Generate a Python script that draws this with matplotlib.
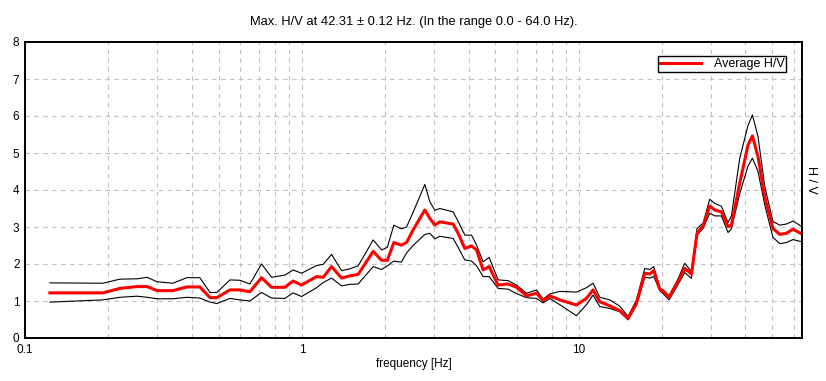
import matplotlib
matplotlib.use("Agg")
import matplotlib.pyplot as plt
from matplotlib.ticker import LogLocator, NullFormatter, FixedLocator, FixedFormatter

plt.rcParams["font.family"] = ["Liberation Sans", "DejaVu Sans"]

freq = [0.123, 0.191, 0.220, 0.254, 0.276, 0.300, 0.342, 0.384, 0.428, 0.466,
        0.493, 0.550, 0.597, 0.649, 0.715, 0.777, 0.868, 0.930, 0.997, 1.130,
        1.194, 1.280, 1.391, 1.491, 1.597, 1.809, 1.940, 2.035, 2.148, 2.287,
        2.388, 2.522, 2.780, 2.899, 3.022, 3.149, 3.518, 3.667, 3.877, 4.099,
        4.274, 4.514, 4.746, 5.113, 5.557, 5.960, 6.476, 7.036, 7.432, 7.859,
        8.540, 9.81, 10.66, 11.26, 11.91, 12.94, 14.06, 15.07, 16.16, 17.31,
        18.05, 18.66, 19.61, 20.15, 21.18, 22.84, 24.14, 25.52, 26.74, 28.11,
        29.71, 30.97, 32.74, 34.59, 35.59, 38.12, 40.86, 42.38, 44.40, 46.94,
        50.27, 53.16, 56.21, 59.37, 64.0]

hv_avg = [1.22, 1.22, 1.34, 1.39, 1.39, 1.28, 1.28, 1.38, 1.38, 1.09,
          1.09, 1.30, 1.30, 1.25, 1.63, 1.37, 1.37, 1.54, 1.43, 1.66,
          1.64, 1.93, 1.62, 1.68, 1.72, 2.34, 2.10, 2.10, 2.58, 2.51,
          2.58, 2.92, 3.46, 3.23, 3.05, 3.14, 3.08, 2.83, 2.42, 2.49,
          2.38, 1.84, 1.93, 1.43, 1.46, 1.37, 1.14, 1.21, 1.01, 1.14,
          1.03, 0.89, 1.07, 1.30, 0.98, 0.87, 0.74, 0.53, 0.94, 1.75,
          1.73, 1.82, 1.32, 1.28, 1.10, 1.52, 1.88, 1.73, 2.83, 3.03,
          3.57, 3.46, 3.41, 3.01, 3.05, 4.18, 5.22, 5.46, 4.90, 3.82,
          2.96, 2.80, 2.83, 2.94, 2.81]

hv_upper = [1.49, 1.48, 1.59, 1.60, 1.64, 1.52, 1.48, 1.63, 1.63, 1.23,
            1.23, 1.57, 1.56, 1.46, 2.00, 1.64, 1.70, 1.84, 1.75, 1.96,
            1.99, 2.26, 1.82, 1.87, 1.95, 2.65, 2.38, 2.45, 3.05, 2.95,
            3.00, 3.40, 4.15, 3.68, 3.45, 3.50, 3.41, 3.15, 2.78, 2.78,
            2.51, 2.06, 2.18, 1.57, 1.55, 1.43, 1.21, 1.30, 1.05, 1.19,
            1.26, 1.24, 1.36, 1.48, 1.10, 1.03, 0.86, 0.58, 1.03, 1.88,
            1.85, 1.93, 1.34, 1.30, 1.14, 1.60, 2.02, 1.79, 2.96, 3.10,
            3.75, 3.64, 3.56, 3.12, 3.30, 4.85, 5.75, 6.03, 5.44, 4.10,
            3.15, 3.05, 3.08, 3.16, 3.01]

hv_lower = [0.97, 1.03, 1.10, 1.13, 1.10, 1.06, 1.06, 1.10, 1.08, 0.97,
            0.93, 1.07, 1.03, 1.00, 1.23, 1.08, 1.07, 1.22, 1.12, 1.36,
            1.50, 1.62, 1.41, 1.45, 1.46, 1.93, 1.85, 1.95, 2.08, 2.05,
            2.30, 2.50, 2.80, 2.83, 2.68, 2.75, 2.69, 2.45, 2.11, 2.08,
            1.95, 1.66, 1.66, 1.34, 1.32, 1.20, 1.09, 1.07, 0.95, 1.07,
            0.90, 0.60, 0.90, 1.16, 0.85, 0.80, 0.71, 0.49, 0.89, 1.64,
            1.62, 1.66, 1.28, 1.20, 1.03, 1.45, 1.77, 1.61, 2.78, 2.96,
            3.37, 3.30, 3.30, 2.85, 2.95, 3.90, 4.65, 4.86, 4.50, 3.60,
            2.72, 2.55, 2.58, 2.66, 2.60]

x_ticks = [0.1, 1, 10]
x_tick_labels = ["0.1", "1", "10"]
y_ticks = list(range(0, 9))

fig = plt.figure(figsize=(8.26, 3.81), dpi=100)
ax = fig.add_axes([25 / 826, 43 / 381, 777 / 826, 296 / 381])

ax.plot(freq, hv_upper, color="black", linewidth=0.8)
ax.plot(freq, hv_lower, color="black", linewidth=0.8)
ax.plot(freq, hv_avg, color="#ff0000", linewidth=2.2, label="Average H/V")

ax.set_xscale("log")
ax.set_xlim(0.1, 64)
ax.set_ylim(0, 8)

ax.xaxis.set_major_locator(FixedLocator(x_ticks))
ax.xaxis.set_major_formatter(FixedFormatter(x_tick_labels))
ax.xaxis.set_minor_locator(LogLocator(base=10, subs=range(2, 10)))
ax.xaxis.set_minor_formatter(NullFormatter())
ax.set_yticks(y_ticks)

ax.grid(True, which="both", axis="x", color="#c0c0c0", linestyle=(0, (4, 4)), linewidth=0.8)
ax.grid(True, which="major", axis="y", color="#c0c0c0", linestyle=(0, (4, 4)), linewidth=0.8)
ax.set_axisbelow(True)

ax.tick_params(which="both", length=0, labelsize=8.5, pad=4)
for s in ax.spines.values():
    s.set_linewidth(1.4)
    s.set_color("black")

ax.set_xlabel("frequency [Hz]", fontsize=8.5, labelpad=2)
ax.set_title("Max. H/V at 42.31 \u00b1 0.12 Hz. (In the range 0.0 - 64.0 Hz).", fontsize=9.3, pad=12)
fig.text(811 / 826, 1 - 180 / 381, "H / V", rotation=270, fontsize=9, ha="center", va="center")

leg = ax.legend(loc="upper right", bbox_to_anchor=(0.98, 0.952), fontsize=9, fancybox=False,
                framealpha=1, edgecolor="black", handlelength=3.3, handletextpad=1.0,
                borderpad=0.15, borderaxespad=0)
leg.get_frame().set_linewidth(1.0)

fig.savefig("out.png", dpi=100)
